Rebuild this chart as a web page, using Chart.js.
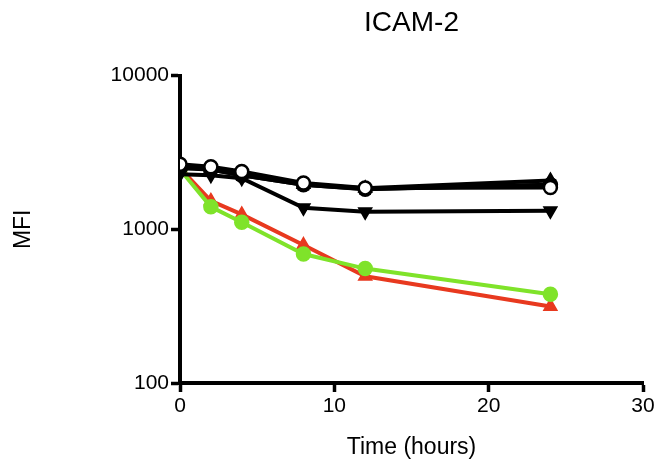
<!DOCTYPE html>
<html>
<head>
<meta charset="utf-8">
<script src="https://cdn.jsdelivr.net/npm/chart.js@4/dist/chart.umd.min.js"></script>
<style>
  html, body { margin: 0; padding: 0; background: #fff; }
  #wrap { width: 659px; height: 465px; }
</style>
</head>
<body>
<div id="wrap"><canvas id="icamChart"></canvas></div>
<script>
// sampling times (hours)
const hours = [0, 2, 4, 8, 12, 24];

// MFI values
const openCircle = [2650, 2550, 2380, 2000, 1860, 1870];
const upTriangle = [2600, 2500, 2300, 1960, 1850, 2080];
const square = [2550, 2450, 2250, 1950, 1830, 1950];
const filledCircle = [2500, 2450, 2250, 1950, 1820, 1950];
const downTriangle = [2280, 2250, 2150, 1380, 1300, 1320];
const greenCircle = [2450, 1400, 1110, 690, 555, 378];
const redTriangle = [2500, 1530, 1250, 790, 495, 315];

const yTicks = [100, 1000, 10000];

function pts(values) {
    return hours.map((h, i) => ({ x: h, y: values[i] }));
}

function series(label, values, color, style, fill, rotation) {
    return {
        label: label,
        data: pts(values),
        borderColor: color,
        backgroundColor: fill,
        pointBorderColor: color,
        pointBackgroundColor: fill,
        pointStyle: style,
        pointRotation: rotation || 0,
        pointRadius: 6.5,
        pointBorderWidth: 2.5,
        borderWidth: 4,
        showLine: true,
        tension: 0
    };
}

const font = 'Liberation Sans, Arial, sans-serif';

const ctx = document.getElementById('icamChart');
new Chart(ctx, {
    type: 'scatter',
    data: {
        datasets: [
            series('open circle', openCircle, '#000', 'circle', '#fff'),
            series('triangle', upTriangle, '#000', 'triangle', '#000'),
            series('square', square, '#000', 'rect', '#000'),
            series('circle', filledCircle, '#000', 'circle', '#000'),
            series('inverted triangle', downTriangle, '#000', 'triangle', '#000', 180),
            series('green', greenCircle, '#7fe32a', 'circle', '#7fe32a'),
            series('red', redTriangle, '#e8391f', 'triangle', '#e8391f')
        ]
    },
    options: {
        responsive: true,
        maintainAspectRatio: false,
        animation: false,
        layout: { padding: { left: 0, right: 16, top: 0, bottom: 0 } },
        plugins: {
            legend: { display: false },
            tooltip: { enabled: false },
            title: {
                display: true,
                text: 'ICAM-2',
                fullSize: false,
                color: '#000',
                font: { family: font, size: 28, weight: 'normal' },
                padding: { top: 6, bottom: 36 }
            }
        },
        scales: {
            x: {
                type: 'linear',
                min: 0,
                max: 30,
                ticks: { stepSize: 10, color: '#000', padding: 2, font: { family: font, size: 21 } },
                grid: { drawOnChartArea: false, color: '#000', tickLength: 9, tickWidth: 3.5 },
                border: { color: '#000', width: 4 },
                title: { display: true, text: 'Time (hours)', color: '#000', padding: { top: 5 },
                         font: { family: font, size: 23 } },
                afterFit: s => { s.height = 82; }
            },
            y: {
                type: 'logarithmic',
                min: 100,
                max: 10000,
                afterBuildTicks: s => { s.ticks = yTicks.map(v => ({ value: v })); },
                ticks: { color: '#000', padding: 2, callback: v => String(v),
                         font: { family: font, size: 21 } },
                grid: { drawOnChartArea: false, color: '#000', tickLength: 9, tickWidth: 3.5 },
                border: { color: '#000', width: 4 },
                title: { display: true, text: 'MFI', color: '#000', padding: { top: 10, bottom: 0 },
                         font: { family: font, size: 23 } },
                afterFit: s => { s.width = 180; }
            }
        }
    }
});
</script>
</body>
</html>
